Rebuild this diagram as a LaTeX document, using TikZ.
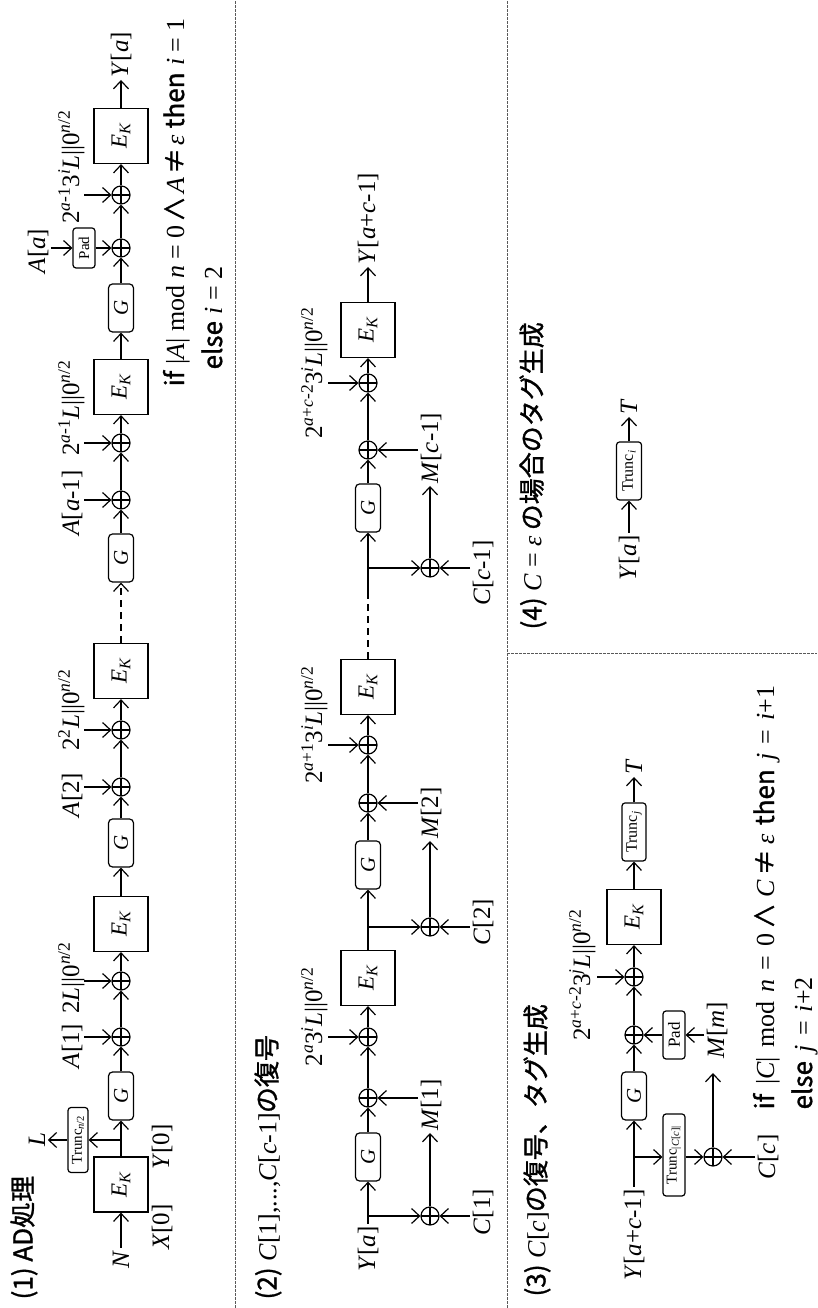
\documentclass[tikz,border=0pt]{standalone}
\usepackage{fontspec}
\setmainfont{Liberation Serif}
\newfontfamily\jp{Noto Sans CJK JP}[FakeBold=1.2]
\usetikzlibrary{arrows.meta}
\newcommand{\ek}{\textit{E}\textsubscript{\textit{K}}}
\newcommand{\nh}{0\textsuperscript{\textit{n}/2}}
\newcommand{\jw}[1]{{\jp #1}}
\tikzset{
 arr/.style={-{Straight Barb[length=8pt,width=15pt]}},
 dsh/.style={dash pattern=on 7pt off 5pt},
 sep/.style={dash pattern=on 2.5pt off 1.5pt, line width=0.7pt, black!65},
 ekbox/.style={draw, minimum width=55pt, minimum height=54pt, inner sep=0pt, font=\fontsize{23}{23}\selectfont},
 gbox/.style={draw, rounded corners=4pt, minimum width=48pt, minimum height=25pt, inner sep=0pt, font=\fontsize{21}{21}\selectfont},
 sbox/.style={draw, rounded corners=3pt, inner sep=1pt, font=\fontsize{16}{16}\selectfont},
 xor/.style={circle, draw, minimum size=18pt, inner sep=0pt, path picture={\draw (path picture bounding box.north) -- (path picture bounding box.south) (path picture bounding box.west) -- (path picture bounding box.east);}},
 lbl/.style={inner sep=2pt, font=\fontsize{25}{27}\selectfont},
 hdr/.style={inner sep=0pt, anchor=west, font=\jp\fontsize{26}{28}\selectfont},
 cond/.style={inner sep=0pt, anchor=base west, font=\fontsize{26}{28}\selectfont},
}
\begin{document}
\begin{tikzpicture}[rotate=90, transform shape, x=1pt, y=1pt, line width=1.2pt]
\useasboundingbox (0,0) rectangle (1308,-817);
% separators
\draw[sep] (0,-235) -- (1308,-235);
\draw[sep] (0,-507) -- (1308,-507);
\draw[sep] (655,-507) -- (655,-817);
% headers
\node[hdr] (h1) at (8,-24) {(1) AD処理};
\node[hdr] (h2) at (8,-268) {(2) {\rmfamily\textit{C}[1],...,\textit{C}[\textit{c}-1]}の復号};
\node[hdr] (h3) at (11,-537) {(3) {\rmfamily\textit{C}[\textit{c}]}の復号、タグ生成};
\node[hdr] (h4) at (678,-533) {(4) {\rmfamily\textit{C} = \textit{ε}} の場合のタグ生成};

% ===== section 1 =====
\node[lbl, anchor=east] (N) at (60,-121) {\textit{N}};
\node[ekbox] (ek1) at (123.5,-121) {\ek};
\node[lbl] (x0) at (81,-162) {\textit{X}[0]};
\node[lbl] (y0) at (161,-162) {\textit{Y}[0]};
\coordinate (b1) at (168,-121);
\node[sbox, minimum width=65pt, minimum height=20pt, font=\fontsize{15}{15}\selectfont] (tr1) at (168,-78) {Trunc\textsubscript{\textit{n}/2}};
\node[lbl] (L) at (168,-37) {\textit{L}};
\node[gbox] (g1) at (212,-121) {\textit{G}};
\node[xor] (x1) at (271,-121) {};
\node[xor] (x2) at (327,-121) {};
\node[ekbox] (ek2) at (384,-121) {\ek};
\node[gbox] (g2) at (465,-121) {\textit{G}};
\node[xor] (x3) at (521,-121) {};
\node[xor] (x4) at (578,-121) {};
\node[ekbox] (ek3) at (637,-121) {\ek};
\node[gbox] (g3) at (750,-121) {\textit{G}};
\node[xor] (x5) at (808,-121) {};
\node[xor] (x6) at (865,-121) {};
\node[ekbox] (ek4) at (921,-121) {\ek};
\node[gbox] (g4) at (1000,-121) {\textit{G}};
\node[xor] (x7) at (1060,-121) {};
\node[xor] (x8) at (1113,-121) {};
\node[ekbox] (ek5) at (1172,-121) {\ek};
\node[lbl, anchor=west] (ya) at (1228,-121) {\textit{Y}[\textit{a}]};

\node[lbl, anchor=base] (la1) at (262,-79) {\textit{A}[1]};
\node[lbl, anchor=base] (l2L) at (330,-79) {2\textit{L}||\nh};
\node[lbl, anchor=base] (la2) at (513,-79) {\textit{A}[2]};
\node[lbl, anchor=base] (l22L) at (598,-79) {2\textsuperscript{2}\textit{L}||\nh};
\node[lbl, anchor=base] (la3) at (805,-79) {\textit{A}[\textit{a}-1]};
\node[lbl, anchor=base] (l2a1L) at (900,-79) {2\textsuperscript{\textit{a}-1}\textit{L}||\nh};
\node[lbl] (laa) at (1057,-38) {\textit{A}[\textit{a}]};
\node[sbox, minimum width=40pt, minimum height=22pt, font=\fontsize{15}{15}\selectfont] (pad1) at (1060,-84) {Pad};
\node[lbl, anchor=base] (l2a13) at (1141,-79) {2\textsuperscript{\textit{a}-1}3\textsuperscript{\textit{i}}\textit{L}||\nh};
\coordinate (i1) at (271,-84);
\coordinate (i2) at (327,-84);
\coordinate (i3) at (521,-84);
\coordinate (i4) at (578,-84);
\coordinate (i5) at (808,-84);
\coordinate (i6) at (865,-84);
\coordinate (i8) at (1113,-84);

\node[cond] (c1a) at (921,-184) {\jw{if} |\textit{A}| mod \textit{n} = 0\kern3pt\jw{∧}\kern3pt\textit{A}\kern3pt\jw{≠}\kern3pt\textit{ε} \jw{then} \textit{i} = 1};
\node[cond] (c1b) at (938,-222) {\jw{else} \textit{i} = 2};

\draw[arr] (N) -- (ek1);
\draw[arr] (ek1) -- (g1);
\draw[arr] (b1) -- (tr1);
\draw[arr] (tr1) -- (L);
\draw[arr] (g1) -- (x1);
\draw[arr] (x1) -- (x2);
\draw[arr] (x2) -- (ek2);
\draw[arr] (ek2) -- (g2);
\draw[arr] (g2) -- (x3);
\draw[arr] (x3) -- (x4);
\draw[arr] (x4) -- (ek3);
\draw[arr, dsh] (ek3) -- (g3);
\draw[arr] (g3) -- (x5);
\draw[arr] (x5) -- (x6);
\draw[arr] (x6) -- (ek4);
\draw[arr] (ek4) -- (g4);
\draw[arr] (g4) -- (x7);
\draw[arr] (x7) -- (x8);
\draw[arr] (x8) -- (ek5);
\draw[arr] (ek5) -- (ya);
\draw[arr] (i1) -- (x1);
\draw[arr] (i2) -- (x2);
\draw[arr] (i3) -- (x3);
\draw[arr] (i4) -- (x4);
\draw[arr] (i5) -- (x5);
\draw[arr] (i6) -- (x6);
\draw[arr] (i8) -- (x8);
\draw[arr] (pad1 |- laa.south) -- (pad1);
\draw[arr] (pad1) -- (x7);

% ===== section 2 =====
\node[lbl, anchor=east] (ya2) at (84,-368) {\textit{Y}[\textit{a}]};
\coordinate (b21) at (92,-368);
\node[gbox] (g21) at (151,-368) {\textit{G}};
\node[xor] (xm1) at (210,-368) {};
\node[xor] (xk1) at (271,-368) {};
\node[ekbox] (ek21) at (330,-368) {\ek};
\coordinate (b22) at (381,-368);
\node[gbox] (g22) at (443,-368) {\textit{G}};
\node[xor] (xm2) at (505,-368) {};
\node[xor] (xk2) at (563,-368) {};
\node[ekbox] (ek22) at (621,-368) {\ek};
\coordinate (d2) at (715,-368);
\coordinate (b23) at (740,-368);
\node[gbox] (g23) at (800,-368) {\textit{G}};
\node[xor] (xm3) at (858,-368) {};
\node[xor] (xk3) at (925,-368) {};
\node[ekbox] (ek23) at (978,-368) {\ek};
\node[lbl, anchor=west] (yac) at (1041,-368) {\textit{Y}[\textit{a}+\textit{c}-1]};

\node[xor] (cx1) at (92,-430) {};
\node[xor] (cx2) at (381,-430) {};
\node[xor] (cx3) at (740,-430) {};
\node[lbl, anchor=base] (c1) at (96,-490) {\textit{C}[1]};
\node[lbl, anchor=base] (c2) at (386,-490) {\textit{C}[2]};
\node[lbl, anchor=base] (c3) at (735,-490) {\textit{C}[\textit{c}-1]};
\node[lbl, anchor=west] (m1) at (175,-431) {\textit{M}[1]};
\node[lbl, anchor=west] (m2) at (467,-431) {\textit{M}[2]};
\node[lbl, anchor=west] (m3) at (822,-431) {\textit{M}[\textit{c}-1]};

\node[lbl, anchor=base] (l2a) at (291,-322) {2\textsuperscript{\textit{a}}3\textsuperscript{\textit{i}}\textit{L}||\nh};
\node[lbl, anchor=base] (l2ap) at (583,-322) {2\textsuperscript{\textit{a}+1}3\textsuperscript{\textit{i}}\textit{L}||\nh};
\node[lbl, anchor=base] (l2ac) at (935,-322) {2\textsuperscript{\textit{a}+\textit{c}-2}3\textsuperscript{\textit{i}}\textit{L}||\nh};
\coordinate (j1) at (271,-328);
\coordinate (j2) at (563,-328);
\coordinate (j3) at (925,-328);

\draw (ya2) -- (b21);
\draw[arr] (b21) -- (g21);
\draw[arr] (b21) -- (cx1);
\draw[arr] (cx1 |- c1.north) -- (cx1);
\draw[arr] (cx1) -- (cx1 -| m1.west);
\draw[arr] (xm1 |- m1.north) -- (xm1);
\draw[arr] (g21) -- (xm1);
\draw[arr] (xm1) -- (xk1);
\draw[arr] (xk1) -- (ek21);
\draw (ek21) -- (b22);
\draw[arr] (b22) -- (g22);
\draw[arr] (b22) -- (cx2);
\draw[arr] (cx2 |- c2.north) -- (cx2);
\draw[arr] (cx2) -- (cx2 -| m2.west);
\draw[arr] (xm2 |- m2.north) -- (xm2);
\draw[arr] (g22) -- (xm2);
\draw[arr] (xm2) -- (xk2);
\draw[arr] (xk2) -- (ek22);
\draw[dsh] (ek22) -- (d2);
\draw (d2) -- (b23);
\draw[arr] (b23) -- (g23);
\draw[arr] (b23) -- (cx3);
\draw[arr] (cx3 |- c3.north) -- (cx3);
\draw[arr] (cx3) -- (cx3 -| m3.west);
\draw[arr] (xm3 |- m3.north) -- (xm3);
\draw[arr] (g23) -- (xm3);
\draw[arr] (xm3) -- (xk3);
\draw[arr] (xk3) -- (ek23);
\draw[arr] (ek23) -- (yac);
\draw[arr] (j1) -- (xk1);
\draw[arr] (j2) -- (xk2);
\draw[arr] (j3) -- (xk3);

% ===== section 3 =====
\node[lbl, anchor=east] (yac3) at (121,-634) {\textit{Y}[\textit{a}+\textit{c}-1]};
\coordinate (b31) at (151,-634);
\node[gbox] (g31) at (212,-634) {\textit{G}};
\node[sbox, minimum width=82pt, minimum height=22pt, font=\fontsize{15}{15}\selectfont] (tr3) at (153,-674) {Trunc\textsubscript{|\textit{C}[\textit{c}]|}};
\node[xor] (cxc) at (151,-713) {};
\node[lbl, anchor=base] (cc) at (151,-775) {\textit{C}[\textit{c}]};
\node[lbl, anchor=west] (mm) at (247,-717) {\textit{M}[\textit{m}]};
\node[sbox, minimum width=48pt, minimum height=22pt, font=\fontsize{17}{17}\selectfont] (pad3) at (273,-674) {Pad};
\node[xor] (xp3) at (273,-634) {};
\node[xor] (xj) at (331,-634) {};
\node[lbl, anchor=base] (l2acj) at (333,-590) {2\textsuperscript{\textit{a}+\textit{c}-2}3\textsuperscript{\textit{j}}\textit{L}||\nh};
\coordinate (j4) at (331,-597);
\node[ekbox] (ek31) at (391,-634) {\ek};
\node[sbox, minimum width=58pt, minimum height=24pt] (trj) at (476,-634) {Trunc\textsubscript{\textit{j}}};
\node[lbl, anchor=west] (T1) at (531,-634) {\textit{T}};
\node[cond] (c3a) at (198,-774) {\spaceskip=9pt\relax\jw{if} |\textit{C}| mod \textit{n} = 0\kern5pt\jw{∧}\kern5pt\textit{C}\kern5pt\jw{≠}\kern5pt\textit{ε} \jw{then} \textit{j} = \textit{i}+1};
\node[cond] (c3b) at (198,-812) {\spaceskip=9pt\relax\jw{else} \textit{j} = \textit{i}+2};

\draw (yac3) -- (b31);
\draw[arr] (b31) -- (g31);
\draw[arr] (b31) -- (b31 |- tr3.north);
\draw[arr] (b31 |- tr3.south) -- (cxc);
\draw[arr] (cxc |- cc.north) -- (cxc);
\draw[arr, shorten >=12pt] (cxc) -- (cxc -| mm.west);
\draw[arr] (pad3 |- mm.north) -- (pad3);
\draw[arr] (pad3) -- (xp3);
\draw[arr] (g31) -- (xp3);
\draw[arr] (xp3) -- (xj);
\draw[arr] (j4) -- (xj);
\draw[arr] (xj) -- (ek31);
\draw[arr] (ek31) -- (trj);
\draw[arr] (trj) -- (T1);

% ===== section 4 =====
\node[lbl, anchor=east] (ya4) at (775,-629) {\textit{Y}[\textit{a}]};
\node[sbox, minimum width=58pt, minimum height=25pt] (tri) at (837,-629) {Trunc\textsubscript{\textit{i}}};
\node[lbl, anchor=west] (T2) at (891,-629) {\textit{T}};
\draw[arr] (ya4) -- (tri);
\draw[arr] (tri) -- (T2);
\end{tikzpicture}
\end{document}
